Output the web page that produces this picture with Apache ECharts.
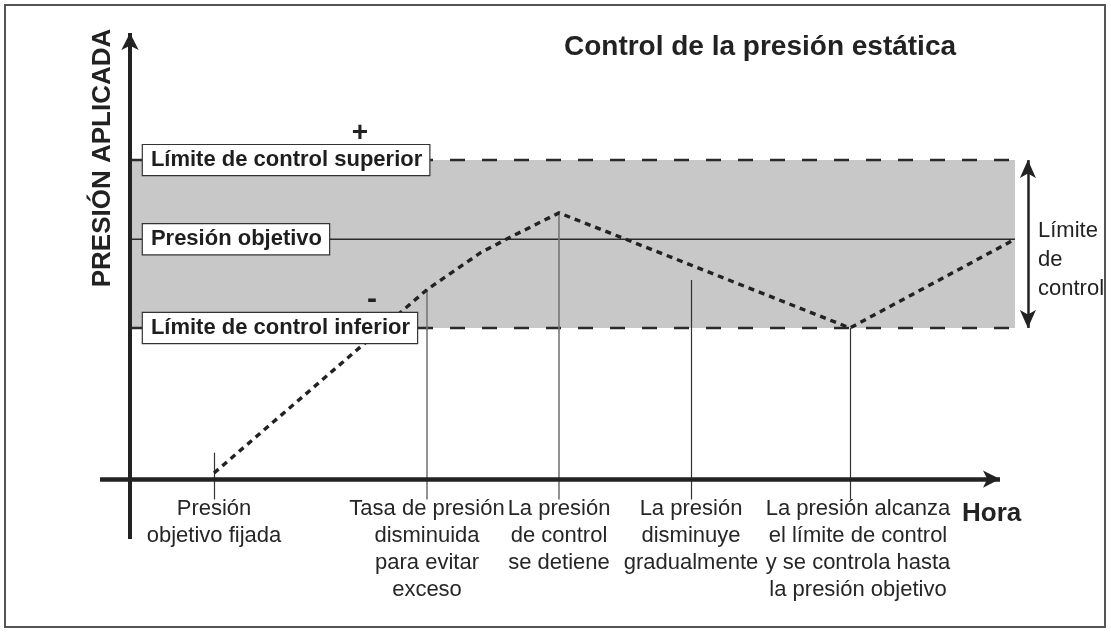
<!DOCTYPE html>
<html>
<head>
<meta charset="utf-8">
<script src="https://cdn.jsdelivr.net/npm/echarts@6/dist/echarts.min.js"></script>
<style>
  html, body { margin: 0; padding: 0; background: #fff; }
  #chart { width: 1111px; height: 633px; }
</style>
</head>
<body>
<div id="chart"></div>
<script>
// presión en % de la presión objetivo, tiempo en unidades arbitrarias
const limiteSuperior = 133;
const presionObjetivo = 100;
const limiteInferior = 63;

// curva de presión (línea punteada)
const tiempo = [2.8, 9.9, 11.7, 12.7, 14.3, 24, 29.5];
const presion = [2.5, 79, 94.5, 101, 111, 63, 100];

// eventos marcados bajo el eje de tiempo
const tiempoEventos = [2.8, 9.9, 14.3, 18.7, 24];
const inicioEventos = [11, 79, 111, 83, 63];
const textoEventos = [
  "Presión\nobjetivo fijada",
  "Tasa de presión\ndisminuida\npara evitar\nexceso",
  "La presión\nde control\nse detiene",
  "La presión\ndisminuye\ngradualmente",
  "La presión alcanza\nel límite de control\ny se controla hasta\nla presión objetivo",
];

const etiquetasNiveles = ["Límite de control superior", "Presión objetivo", "Límite de control inferior"];
const valoresNiveles = [limiteSuperior, presionObjetivo, limiteInferior];

const xFin = 29.5;
const fuente = "'Liberation Sans', Arial, sans-serif";

let myChart = echarts.init(document.getElementById("chart"));

myChart.setOption({
  animation: false,
  grid: { left: 100, right: 81, top: 33, bottom: 94 },
  xAxis: { type: "value", min: -1, max: 30, show: false },
  yAxis: { type: "value", min: -25, max: 186, show: false },
  graphic: [
    // marco
    {
      type: "rect",
      shape: { x: 5, y: 5, width: 1100, height: 622 },
      style: { fill: "none", stroke: "#555", lineWidth: 2 },
      z: 100,
    },
    {
      type: "text",
      x: 760, y: 47, z: 50,
      style: {
        text: "Control de la presión estática",
        font: "bold 28px " + fuente, fill: "#222",
        textAlign: "center", textVerticalAlign: "middle",
      },
    },
    {
      type: "text",
      x: 103, y: 158, z: 50, rotation: Math.PI / 2,
      style: {
        text: "PRESIÓN APLICADA",
        font: "bold 26px " + fuente, fill: "#222",
        textAlign: "center", textVerticalAlign: "middle",
      },
    },
    {
      type: "text",
      x: 962, y: 514, z: 50,
      style: {
        text: "Hora",
        font: "bold 26px " + fuente, fill: "#222",
        textAlign: "left", textVerticalAlign: "middle",
      },
    },
    {
      type: "text",
      x: 360, y: 133, z: 50,
      style: { text: "+", font: "bold 28px " + fuente, fill: "#222", textAlign: "center", textVerticalAlign: "middle" },
    },
    {
      type: "text",
      x: 372, y: 300, z: 50,
      style: { text: "-", font: "bold 30px " + fuente, fill: "#222", textAlign: "center", textVerticalAlign: "middle" },
    },
    {
      type: "text",
      x: 1038, y: 216, z: 50,
      style: {
        text: "Límite\nde\ncontrol",
        font: "22px " + fuente, fill: "#222", lineHeight: 29,
        textAlign: "left", textVerticalAlign: "top",
      },
    },
  ],
  series: [
    {
      // banda gris entre límites
      name: "banda",
      type: "line",
      data: [],
      silent: true,
      markArea: {
        silent: true,
        itemStyle: { color: "#c8c8c8" },
        data: [[{ coord: [0, limiteInferior] }, { coord: [xFin, limiteSuperior] }]],
      },
    },
    {
      name: "superior",
      type: "line",
      data: [[0, limiteSuperior], [xFin, limiteSuperior]],
      symbol: "none",
      lineStyle: { color: "#2a2a2a", width: 2.5, type: [15, 17] },
      z: 3,
    },
    {
      name: "inferior",
      type: "line",
      data: [[0, limiteInferior], [xFin, limiteInferior]],
      symbol: "none",
      lineStyle: { color: "#2a2a2a", width: 2.5, type: [15, 17] },
      z: 3,
    },
    {
      name: "objetivo",
      type: "line",
      data: [[0, presionObjetivo], [xFin, presionObjetivo]],
      symbol: "none",
      lineStyle: { color: "#2a2a2a", width: 1.3 },
      z: 3,
    },
    {
      // líneas verticales de los eventos y ejes con flecha
      name: "ejes",
      type: "line",
      data: [],
      markLine: {
        silent: true,
        label: { show: false },
        symbol: "none",
        data: tiempoEventos.map((t, i) => [
          { coord: [t, inicioEventos[i]], lineStyle: { color: i === 1 || i === 2 ? "#777" : "#333", width: i === 1 || i === 2 ? 1.6 : 1.2, type: "solid" } },
          { coord: [t, -8.5] },
        ]).concat([
          [
            { coord: [-1, 0], symbol: "none", lineStyle: { color: "#222", width: 4.5, type: "solid" } },
            { coord: [29, 0], symbol: "arrow", symbolSize: [13, 17] },
          ],
          [
            { coord: [0, -25], symbol: "none", lineStyle: { color: "#222", width: 4, type: "solid" } },
            { coord: [0, 186], symbol: "arrow", symbolSize: [13, 17] },
          ],
          [
            { coord: [29.93, limiteInferior], symbol: "arrow", symbolSize: [12, 18], lineStyle: { color: "#222", width: 2.5, type: "solid" } },
            { coord: [29.93, limiteSuperior], symbol: "arrow", symbolSize: [12, 18] },
          ],
        ]),
      },
      z: 4,
    },
    {
      name: "presión",
      type: "line",
      data: tiempo.map((t, i) => [t, presion[i]]),
      symbol: "none",
      lineStyle: { color: "#222", width: 3.4, type: [6, 5] },
      z: 5,
    },
    {
      // cajas con el nombre de cada nivel
      name: "niveles",
      type: "scatter",
      symbolSize: 0,
      itemStyle: { opacity: 1 },
      data: valoresNiveles.map((v, i) => ({ value: [0.43, v], name: etiquetasNiveles[i] })),
      label: {
        show: true,
        position: "right",
        distance: 0,
        formatter: "{b}",
        fontFamily: fuente,
        fontWeight: "bold",
        fontSize: 22,
        color: "#1e1e1e",
        opacity: 1,
        backgroundColor: "#fff",
        borderColor: "#333",
        borderWidth: 1.2,
        padding: [5, 7, 3, 8],
      },
      z: 6,
    },
    {
      // textos bajo el eje de tiempo
      name: "eventos",
      type: "scatter",
      symbolSize: 0,
      itemStyle: { opacity: 1 },
      data: tiempoEventos.map((t, i) => ({
        value: [t, -8.5],
        name: textoEventos[i],
        label: i === 4 ? { offset: [8, 0] } : {},
      })),
      label: {
        show: true,
        position: "bottom",
        distance: -4,
        formatter: "{b}",
        fontFamily: fuente,
        fontSize: 22,
        lineHeight: 27,
        color: "#262626",
        opacity: 1,
        align: "center",
      },
      z: 6,
    },
  ],
});
</script>
</body>
</html>
